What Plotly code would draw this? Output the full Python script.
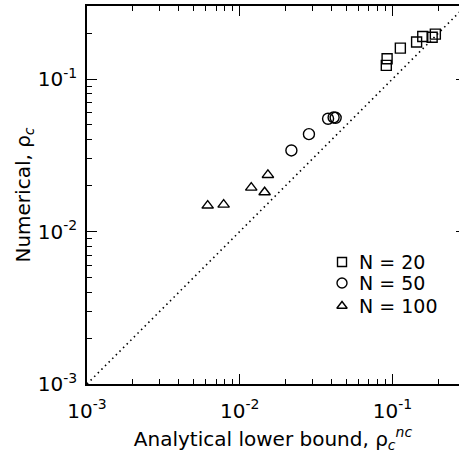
import plotly.graph_objects as go

# Analytical lower bound (x) vs numerical critical density (y)
n20_bound = [0.0923, 0.0912, 0.1127, 0.144, 0.158, 0.182, 0.191]
n20_numeric = [0.136, 0.123, 0.1595, 0.175, 0.190, 0.188, 0.197]

n50_bound = [0.0218, 0.0284, 0.0379, 0.0412, 0.0425]
n50_numeric = [0.0340, 0.0435, 0.0549, 0.0560, 0.0557]

n100_bound = [0.00617, 0.00785, 0.0119, 0.01456, 0.0153]
n100_numeric = [0.0148, 0.0150, 0.0194, 0.0181, 0.0235]

diag = [1e-3, 0.3]

tick_vals = [1e-3, 1e-2, 1e-1]
tick_text = ["10<sup>-3</sup>", "10<sup>-2</sup>", "10<sup>-1</sup>"]

series_names = ["N = 20", "N = 50", "N = 100"]
series_symbols = ["square-open", "circle-open", "triangle-up-open"]
series_sizes = [10, 11, 10]
key_sizes = [9, 10, 9]

FONT = "DejaVu Sans, Liberation Sans, Arial, sans-serif"

fig = go.Figure()

fig.add_trace(go.Scatter(
    x=diag, y=diag, mode="lines",
    line=dict(color="black", width=1.6, dash="1.5px,3.6px"),
    showlegend=False, hoverinfo="skip",
))

marker_line = dict(color="black", width=1.4)
for bx, ny, name, sym, sz in zip(
    [n20_bound, n50_bound, n100_bound],
    [n20_numeric, n50_numeric, n100_numeric],
    series_names, series_symbols, series_sizes,
):
    fig.add_trace(go.Scatter(
        x=bx, y=ny, mode="markers", name=name, showlegend=False,
        marker=dict(symbol=sym, size=sz, color="black", line=marker_line),
    ))

# right-hand ticks (axis line lies just beyond the visible area)
fig.add_trace(go.Scatter(x=[None], y=[None], yaxis="y2", showlegend=False))

# key drawn on a hidden unit-square overlay
key_x = 0.6855
key_rows = [0.3228, 0.2672, 0.2063]
for row, sym, sz in zip(key_rows, series_symbols, key_sizes):
    fig.add_trace(go.Scatter(
        x=[key_x], y=[row], xaxis="x3", yaxis="y3", mode="markers",
        marker=dict(symbol=sym, size=sz, color="black", line=marker_line),
        showlegend=False, hoverinfo="skip",
    ))
for row, name in zip(key_rows, series_names):
    fig.add_annotation(
        x=0.7258, y=row, xref="paper", yref="paper",
        xanchor="left", yanchor="middle", showarrow=False,
        text=name, font=dict(family=FONT, size=19, color="black"),
    )

common_axis = dict(
    type="log",
    showgrid=False, zeroline=False,
    showline=True, linecolor="black", linewidth=1.6,
    ticks="inside", ticklen=10, tickwidth=1.2, tickcolor="black",
    tickvals=tick_vals, ticktext=tick_text,
    minor=dict(ticks="inside", ticklen=5, tickwidth=1.2, tickcolor="black",
               dtick="D1", showgrid=False),
    tickfont=dict(family=FONT, size=20, color="black"),
)

fig.update_layout(
    width=459, height=454,
    margin=dict(l=87, r=0, t=6, b=70),
    paper_bgcolor="white", plot_bgcolor="white",
    font=dict(family=FONT, size=19, color="black"),
    showlegend=False,
    xaxis=dict(
        common_axis,
        range=[-3, -0.564], mirror="ticks", ticklabelstandoff=8,
        title=dict(text="Analytical lower bound, ρ<sub><i>c</i></sub><sup><i>nc</i></sup>",
                   font=dict(family=FONT, size=20), standoff=10),
    ),
    yaxis=dict(
        common_axis,
        range=[-3, -0.521], mirror=False, ticklabelstandoff=4,
        title=dict(text="Numerical, ρ<sub><i>c</i></sub>",
                   font=dict(family=FONT, size=20), standoff=2),
    ),
    yaxis2=dict(
        type="log", overlaying="y", side="right", range=[-3, -0.521],
        showgrid=False, zeroline=False, showline=False,
        ticks="inside", ticklen=3, tickwidth=1.2, tickcolor="black",
        tickvals=tick_vals, showticklabels=False,
    ),
    xaxis3=dict(overlaying="x", range=[0, 1], visible=False, fixedrange=True),
    yaxis3=dict(overlaying="y", range=[0, 1], visible=False, fixedrange=True),
)

fig.write_html("out.html")
